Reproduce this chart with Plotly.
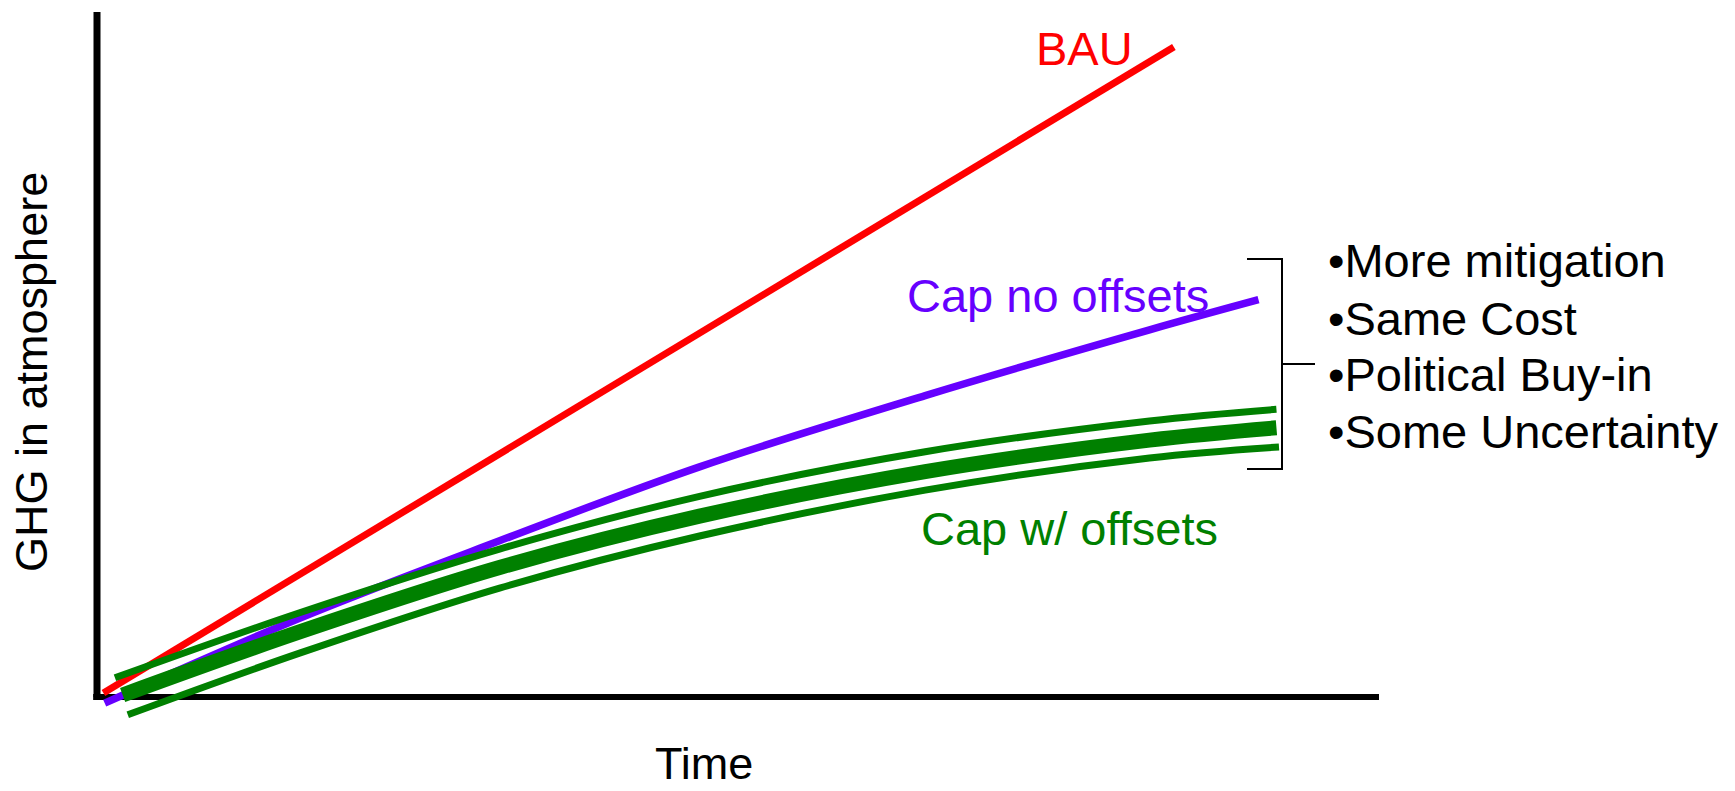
import plotly.graph_objects as go

# ---- data (time units 0..100, GHG units 0..100) ----
bau_t = [0.5, 84.0]
bau_v = [0.6, 94.9]

cap_no_t = [0.6, 15.8, 31.4, 47.0, 64.6, 82.1, 90.6]
cap_no_v = [-0.9, 11.5, 22.8, 33.6, 44.0, 53.6, 58.0]

cap_off_hi_t = [1.4, 15.8, 31.4, 47.0, 64.6, 82.1, 92.0]
cap_off_hi_v = [2.8, 12.3, 21.6, 29.3, 35.8, 40.3, 42.0]

cap_off_mid_t = [2.0, 15.8, 31.4, 47.0, 64.6, 82.1, 92.0]
cap_off_mid_v = [0.3, 9.5, 18.9, 26.4, 32.9, 37.5, 39.3]

cap_off_lo_t = [2.4, 15.8, 31.4, 47.0, 64.6, 82.1, 92.2]
cap_off_lo_v = [-2.6, 6.4, 15.9, 23.5, 30.2, 34.9, 36.5]

bullets = ["•More mitigation", "•Same Cost", "•Political Buy-in", "•Some Uncertainty"]

RED = "#FF0000"
PURPLE = "#6600FF"
GREEN = "#008000"
FONT = "Liberation Sans, Arial, sans-serif"

W, H = 1735, 791
PX_X = 12.82   # pixels per time unit
PX_Y = 6.85    # pixels per GHG unit
ORIG_X, ORIG_Y = 97, 697

fig = go.Figure()

# axes
fig.add_trace(go.Scatter(x=[0, 0], y=[0, 100], mode="lines",
                         line=dict(color="black", width=7), hoverinfo="skip"))
fig.add_trace(go.Scatter(x=[-0.3, 100], y=[0, 0], mode="lines",
                         line=dict(color="black", width=6), hoverinfo="skip"))

fig.add_trace(go.Scatter(x=bau_t, y=bau_v, mode="lines",
                         line=dict(color=RED, width=7), name="BAU"))
fig.add_trace(go.Scatter(x=cap_no_t, y=cap_no_v, mode="lines",
                         line=dict(color=PURPLE, width=7.5, shape="spline", smoothing=1),
                         name="Cap no offsets"))
for t, v, w in [(cap_off_hi_t, cap_off_hi_v, 7),
                (cap_off_mid_t, cap_off_mid_v, 15),
                (cap_off_lo_t, cap_off_lo_v, 7)]:
    fig.add_trace(go.Scatter(x=t, y=v, mode="lines",
                             line=dict(color=GREEN, width=w, shape="spline", smoothing=1),
                             name="Cap w/ offsets"))

def X(px):
    return (px - ORIG_X) / PX_X

def Y(py):
    return (ORIG_Y - py) / PX_Y

# bracket
bx0, bx1, bx2 = X(1247), X(1282), X(1315)
by0, by1, by2 = Y(259), Y(364), Y(469)
fig.add_shape(type="path", xref="x", yref="y",
              path=f"M {bx0},{by0} L {bx1},{by0} L {bx1},{by1} L {bx2},{by1} "
                   f"M {bx1},{by1} L {bx1},{by2} L {bx0},{by2}",
              line=dict(color="black", width=2))

ann = []
def label(text, px, py, color, size=47, anchor="center", angle=0):
    ann.append(dict(x=X(px), y=Y(py), xref="x", yref="y", text=text, showarrow=False,
                    xanchor=anchor, yanchor="middle", textangle=angle,
                    font=dict(family=FONT, size=size, color=color)))

label("BAU", 1084, 48.5, RED)
label("Cap no offsets", 1058, 295, PURPLE)
label("Cap w/ offsets", 1069.5, 528.5, GREEN)
label("Time", 703.5, 763, "black", size=45)
label("GHG in atmosphere", 31, 372, "black", size=45, angle=-90)
for i, b in enumerate(bullets):
    label(b, 1326, [260, 318, 374, 431][i], "black", size=47, anchor="left")

fig.update_layout(
    width=W, height=H, margin=dict(l=0, r=0, t=0, b=0),
    paper_bgcolor="white", plot_bgcolor="white", showlegend=False,
    xaxis=dict(visible=False, range=[-ORIG_X / PX_X, (W - ORIG_X) / PX_X], fixedrange=True),
    yaxis=dict(visible=False, range=[-(H - ORIG_Y) / PX_Y, ORIG_Y / PX_Y], fixedrange=True),
    annotations=ann,
)

fig.write_html("out.html", config={"displayModeBar": False},
               post_script="document.body.style.margin='0px';document.body.style.overflow='hidden';")
